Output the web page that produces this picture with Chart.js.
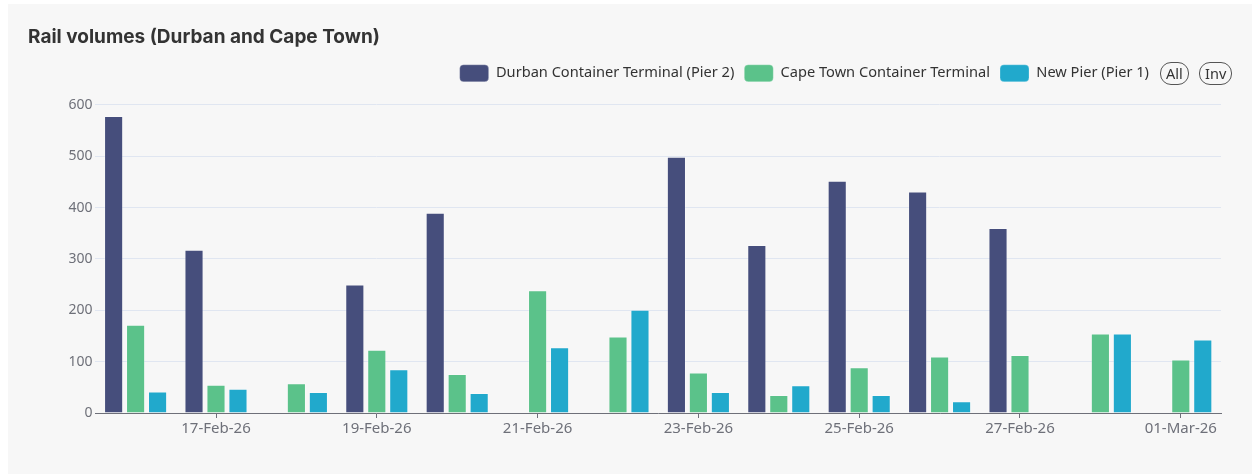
<!DOCTYPE html>
<html>
<head>
<meta charset="utf-8">
<script src="https://cdn.jsdelivr.net/npm/chart.js@4.4.1/dist/chart.umd.min.js"></script>
<style>
  html, body { margin: 0; padding: 0; background: #ffffff; }
  body { width: 1252px; height: 475px; position: relative; overflow: hidden; }
  .card { position: absolute; left: 8px; top: 4px; right: 0; bottom: 1px; background: #f7f7f7; }
  #chart { position: absolute; left: 0; top: 0; }
  .btn {
    position: absolute; top: 62px; height: 21px; line-height: 21px;
    border: 1px solid #555; border-radius: 11px; padding: 0 5px;
    font: 14.5px "Noto Sans", sans-serif; color: #333; background: transparent;
  }
</style>
</head>
<body>
<div class="card"></div>
<canvas id="chart" width="1252" height="475"></canvas>
<span class="btn" style="left:1160px">All</span>
<span class="btn" style="left:1199px">Inv</span>
<script>
const dates = ['16-Feb-26', '17-Feb-26', '18-Feb-26', '19-Feb-26', '20-Feb-26', '21-Feb-26', '22-Feb-26',
               '23-Feb-26', '24-Feb-26', '25-Feb-26', '26-Feb-26', '27-Feb-26', '28-Feb-26', '01-Mar-26'];
const durban   = [578, 318, null, 250, 390, null, null, 499, 327, 452, 431, 360, null, null];
const capeTown = [172, 55, 58, 123, 76, 239, 149, 79, 35, 89, 110, 113, 155, 104];
const newPier  = [42, 47, 41, 85, 39, 128, 201, 41, 54, 35, 23, null, 155, 143];

const axisGrey = '#6e7079'
const edge = 'rgba(255,255,255,0.25)'

// legend needs a bit of room below it and has to stop before the All/Inv buttons
const legendTweak = {
    id: 'legendTweak',
    beforeInit(chart) {
        const fit = chart.legend.fit
        chart.legend.fit = function () {
            fit.call(this)
            this.height += 13
        }
    },
    afterLayout(chart) {
        chart.legend.right -= 62
    }
}

const ctx = document.getElementById('chart').getContext('2d')
new Chart(ctx, {
    type: 'bar',
    data: {
        labels: dates,
        datasets: [
            { label: 'Durban Container Terminal (Pier 2)', data: durban,
              backgroundColor: '#464e7c', borderColor: edge },
            { label: 'Cape Town Container Terminal', data: capeTown,
              backgroundColor: '#5bc28a', borderColor: edge },
            { label: 'New Pier (Pier 1)', data: newPier,
              backgroundColor: '#21a9cc', borderColor: edge }
        ]
    },
    options: {
        responsive: false,
        animation: false,
        layout: { padding: { left: 28, right: 31, top: 0, bottom: 0 } },
        datasets: {
            bar: { categoryPercentage: 0.82, barPercentage: 0.87, borderWidth: 1 }
        },
        plugins: {
            title: {
                display: true,
                text: 'Rail volumes (Durban and Cape Town)',
                align: 'start',
                color: '#333333',
                font: { family: 'Inter', size: 19, weight: 'bold' },
                padding: { top: 26, bottom: 6 }
            },
            legend: {
                position: 'top',
                align: 'end',
                labels: {
                    boxWidth: 29,
                    boxHeight: 17,
                    useBorderRadius: true,
                    borderRadius: 4,
                    padding: 10,
                    color: '#333333',
                    font: { family: 'Noto Sans', size: 14.6 }
                }
            },
            tooltip: { enabled: false }
        },
        scales: {
            x: {
                afterFit: s => { s.height = 62 },
                border: { display: true, color: axisGrey, width: 1 },
                grid: {
                    offset: false,
                    drawOnChartArea: false,
                    drawTicks: true,
                    tickLength: 5,
                    tickColor: c => (c.index % 2 ? axisGrey : 'transparent')
                },
                ticks: {
                    autoSkip: false,
                    maxRotation: 0,
                    padding: 2,
                    color: axisGrey,
                    font: { family: 'Noto Sans', size: 15 },
                    callback: function (v, i) { return i % 2 ? this.getLabelForValue(v) : '' }
                }
            },
            y: {
                min: 0,
                max: 600,
                afterFit: s => { s.width = 67.4 },
                border: { display: false },
                grid: { color: '#e0e6f1', drawTicks: false },
                ticks: {
                    stepSize: 100,
                    padding: 3,
                    color: axisGrey,
                    font: { family: 'Noto Sans', size: 14 }
                }
            }
        }
    },
    plugins: [legendTweak]
})
</script>
</body>
</html>
